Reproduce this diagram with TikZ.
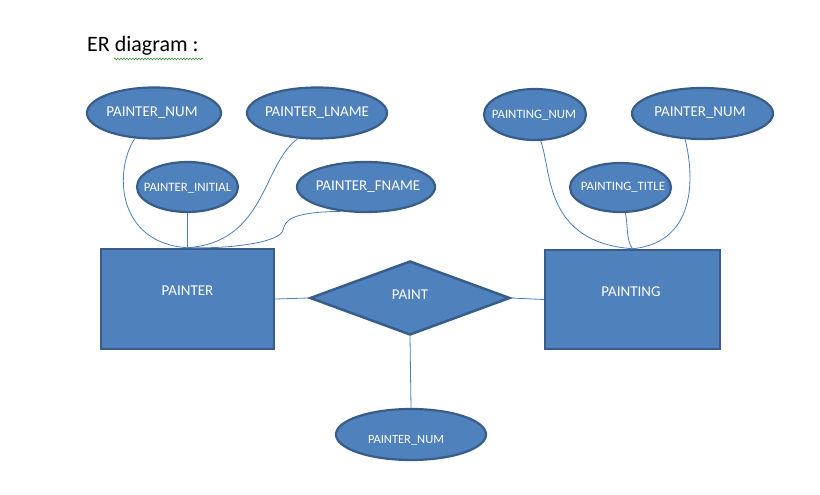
\documentclass[tikz,border=0pt]{standalone}
\usepackage{fontspec}
\setmainfont{Carlito}
\usetikzlibrary{shapes.geometric,decorations.pathmorphing}
\definecolor{ofill}{HTML}{4F81BD}
\definecolor{oline}{HTML}{385D8A}
\definecolor{conn}{HTML}{4A7EBB}
\definecolor{spell}{HTML}{3C9A3C}
\tikzset{
  attr/.style={ellipse, draw=oline, fill=ofill, line width=2.2pt, inner sep=0pt},
  entity/.style={rectangle, draw=oline, fill=ofill, line width=2.5pt, inner sep=0pt},
  rel/.style={diamond, draw=oline, fill=ofill, line width=2.5pt, inner sep=0pt},
  lbl/.style={text=white, inner sep=0pt},
  link/.style={draw=conn, line width=0.8pt},
  bigf/.style={font=\fontsize{15}{17}\selectfont},
  smallf/.style={font=\fontsize{12.8}{15}\selectfont},
}
\begin{document}
\begin{tikzpicture}[x=1pt,y=-1pt]
\useasboundingbox (0,0) rectangle (820,495);
% title
\node[anchor=west, inner sep=0pt, font=\fontsize{22}{24}\selectfont] (title) at (87,46) {ER diagram :};
\coordinate (sqA) at (114,59);
\coordinate (sqB) at (203,59);
\draw[spell, line width=0.6pt, decorate, decoration={snake, amplitude=0.9pt, segment length=3pt}] (sqA) -- (sqB);

% entities
\node[entity, minimum width=173pt, minimum height=100pt] (painter) at (187.5,299) {};
\node[lbl, bigf] (painterT) at (187.5,291) {PAINTER};
\node[entity, minimum width=175pt, minimum height=99pt] (painting) at (632.5,299.5) {};
\node[lbl, bigf] (paintingT) at (631,292) {PAINTING};

% relationship
\node[rel, minimum width=200pt, minimum height=74pt] (paint) at (410,298) {};
\node[lbl, bigf] (paintT) at (410,295) {PAINT};

% attributes left
\node[attr, minimum width=134pt, minimum height=51pt] (pnum) at (154,113) {};
\node[lbl, bigf] (pnumT) at (152,113) {PAINTER\_NUM};
\node[attr, minimum width=140pt, minimum height=51pt] (lname) at (317,113) {};
\node[lbl, bigf] (lnameT) at (317,113) {PAINTER\_LNAME};
\node[attr, minimum width=101pt, minimum height=50pt] (pinit) at (187.5,187) {};
\node[lbl, smallf] (pinitT) at (187.5,188) {PAINTER\_INITIAL};
\node[attr, minimum width=138pt, minimum height=50pt] (fname) at (366,187) {};
\node[lbl, bigf] (fnameT) at (368,187) {PAINTER\_FNAME};

% attributes right
\node[attr, minimum width=102pt, minimum height=51pt] (pgnum) at (535,114.5) {};
\node[lbl, smallf] (pgnumT) at (534,115) {PAINTING\_NUM};
\node[attr, minimum width=141pt, minimum height=51pt] (rpnum) at (702.5,113.5) {};
\node[lbl, bigf] (rpnumT) at (700,113) {PAINTER\_NUM};
\node[attr, minimum width=101pt, minimum height=49pt] (ptitle) at (620.5,187.5) {};
\node[lbl, smallf] (ptitleT) at (623,187.5) {PAINTING\_TITLE};

% attribute bottom
\node[attr, minimum width=150pt, minimum height=51pt] (bnum) at (411,434.5) {};
\node[lbl, font=\fontsize{12.5}{15}\selectfont] (bnumT) at (406,440) {PAINTER\_NUM};

% connectors left
\draw[link] (pnum.233) .. controls (114,170) and (116,243) .. (painter.north);
\draw[link] (lname.233) .. controls (262,165) and (266,242) .. (painter.north);
\draw[link] (pinit.south) -- (painter.north);
\draw[link] (fname.224) .. controls (292,212) and (285,220) .. (283,230)
            .. controls (281,242) and (232,249) .. (painter.north);

% connectors right
\draw[link] (pgnum.282) .. controls (552,170) and (543,242) .. (painting.north);
\draw[link] (rpnum.236) .. controls (693,170) and (700,242) .. (painting.north);
\draw[link] (ptitle.281) .. controls (628,225) and (626,240) .. (painting.north);

% relationship links
\draw[link] (painter.east) -- (paint.west);
\draw[link] (paint.east) -- (painting.west);
\draw[link] (paint.south) -- (bnum.north);
\end{tikzpicture}
\end{document}
